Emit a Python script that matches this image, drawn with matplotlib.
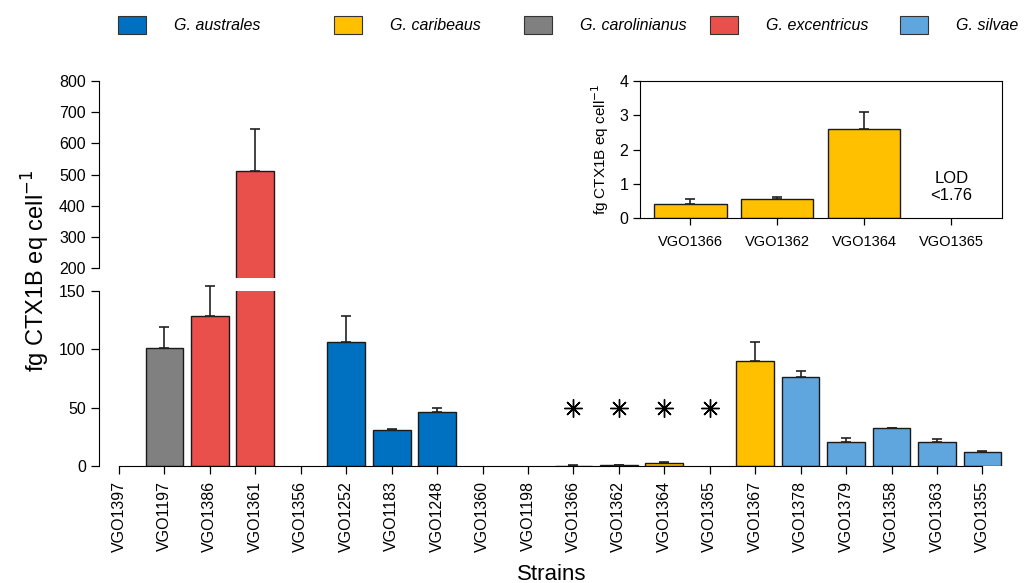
import numpy as np
import matplotlib
matplotlib.use('Agg')
import matplotlib.pyplot as plt
from matplotlib.patches import Rectangle

plt.rcParams['font.family'] = ['Liberation Sans', 'DejaVu Sans']

# data
strains = ['VGO1397', 'VGO1197', 'VGO1386', 'VGO1361', 'VGO1356', 'VGO1252',
           'VGO1183', 'VGO1248', 'VGO1360', 'VGO1198', 'VGO1366', 'VGO1362',
           'VGO1364', 'VGO1365', 'VGO1367', 'VGO1378', 'VGO1379', 'VGO1358',
           'VGO1363', 'VGO1355']
species = [None, 'G. carolinianus', 'G. excentricus', 'G. excentricus', None,
           'G. australes', 'G. australes', 'G. australes', None, None,
           'G. caribeaus', 'G. caribeaus', 'G. caribeaus', 'G. caribeaus',
           'G. caribeaus', 'G. silvae', 'G. silvae', 'G. silvae', 'G. silvae',
           'G. silvae']
values = [0, 101, 128, 512, 0, 106.5, 30.7, 45.8, 0, 0, 0.42, 0.56, 2.59, 0,
          90, 76.4, 20.3, 32.1, 20.5, 12.2]
err_up = [0, 18, 26, 134, 0, 22, 0.8, 4.2, 0, 0, 0.13, 0.05, 0.5, 0,
          16, 5, 3.9, 0.4, 2.8, 0.6]
star_strains = ['VGO1366', 'VGO1362', 'VGO1364', 'VGO1365']
star_y = [50, 50, 50, 50]
inset_strains = ['VGO1366', 'VGO1362', 'VGO1364', 'VGO1365']

legend_names = ['G. australes', 'G. caribeaus', 'G. carolinianus',
                'G. excentricus', 'G. silvae']
legend_colors = ['#0070C0', '#FFC000', '#808080', '#E9504C', '#5FA6DF']
col_of = dict(zip(legend_names, legend_colors))

x = np.arange(len(strains))
vals = np.array(values, dtype=float)
errs = np.array(err_up, dtype=float)
colors = [col_of.get(s, 'white') for s in species]
lws = [1.0 if v > 0 else 0 for v in vals]
W = 0.83
ERR = dict(fmt='none', ecolor='#222222', elinewidth=1.2, capsize=3.5,
           capthick=1.2)

fig = plt.figure(figsize=(10.25, 5.83), dpi=100)
ax_lo = fig.add_axes([0.0966, 0.2007, 0.884, 0.3007])
ax_hi = fig.add_axes([0.0966, 0.5226, 0.884, 0.3384])

for ax in (ax_lo, ax_hi):
    ax.bar(x, vals, width=W, color=colors, edgecolor='#1a1a1a', linewidth=lws)
    ax.set_xlim(-0.44, 19.5)
    for s in ['top', 'right']:
        ax.spines[s].set_visible(False)
    ax.tick_params(axis='y', direction='out', length=6, labelsize=11.5, width=0.9)

# lower part 0-150
lo = (vals + errs < 160) & (errs > 0)
ax_lo.errorbar(x[lo], vals[lo], yerr=[np.zeros(lo.sum()), errs[lo]],
               clip_on=False, **ERR)
ax_lo.set_ylim(0, 150)
ax_lo.set_yticks([0, 50, 100, 150])
ax_lo.spines['left'].set_bounds(0, 150)
ax_lo.spines['bottom'].set_bounds(0, len(strains) - 1)
ax_lo.set_xticks(x)
ax_lo.set_xticklabels(strains, rotation=90, fontsize=11.5)
ax_lo.tick_params(axis='x', direction='out', length=6, width=0.9, pad=5)
sx = [strains.index(s) for s in star_strains]
ax_lo.plot(sx, star_y, linestyle='none', marker=(8, 2, 0), ms=13,
           mec='black', mew=1.0)
ax_lo.set_xlabel('Strains', fontsize=16, labelpad=8)

# upper part 200-800
hi = vals > 200
ax_hi.errorbar(x[hi], vals[hi], yerr=[np.zeros(hi.sum()), errs[hi]], **ERR)
ax_hi.set_ylim(168, 800)
ax_hi.set_yticks(range(200, 801, 100))
ax_hi.spines['left'].set_bounds(200, 800)
ax_hi.spines['bottom'].set_visible(False)
ax_hi.set_xticks([])

fig.text(0.035, 0.535, 'fg CTX1B eq cell$^{-1}$', rotation=90,
         fontsize=17, ha='center', va='center')

# inset with the low values of G. caribeaus
ax_in = fig.add_axes([0.6244, 0.6255, 0.3529, 0.2361])
ii = [strains.index(s) for s in inset_strains]
xi = np.arange(len(ii))
ax_in.bar(xi, vals[ii], width=W, color=[colors[i] for i in ii],
          edgecolor='#1a1a1a', linewidth=[lws[i] for i in ii])
m = errs[ii] > 0
ax_in.errorbar(xi[m], vals[ii][m], yerr=[np.zeros(m.sum()), errs[ii][m]], **ERR)
ax_in.set_xlim(-0.58, 3.58)
ax_in.set_ylim(0, 4)
ax_in.set_yticks([0, 1, 2, 3, 4])
ax_in.set_xticks(xi)
ax_in.set_xticklabels(inset_strains)
ax_in.tick_params(direction='out', length=5, labelsize=11.5, width=0.9)
ax_in.tick_params(axis='x', labelsize=10.5, pad=7)
ax_in.set_ylabel('fg CTX1B eq cell$^{-1}$', fontsize=11, labelpad=6)
ax_in.text(3, 0.91, 'LOD\n<1.76', ha='center', va='center', fontsize=12,
           linespacing=1.2)

# legend row across the top
leg_x = [0.115, 0.326, 0.511, 0.693, 0.878]
for lx, name, c in zip(leg_x, legend_names, legend_colors):
    fig.add_artist(Rectangle((lx, 0.9417), 0.0273, 0.0309,
                             transform=fig.transFigure, facecolor=c,
                             edgecolor='#333333', linewidth=0.8))
    fig.text(lx + 0.0546, 0.957, name, style='italic', fontsize=11.5,
             ha='left', va='center')

fig.savefig('out.png', dpi=100)
